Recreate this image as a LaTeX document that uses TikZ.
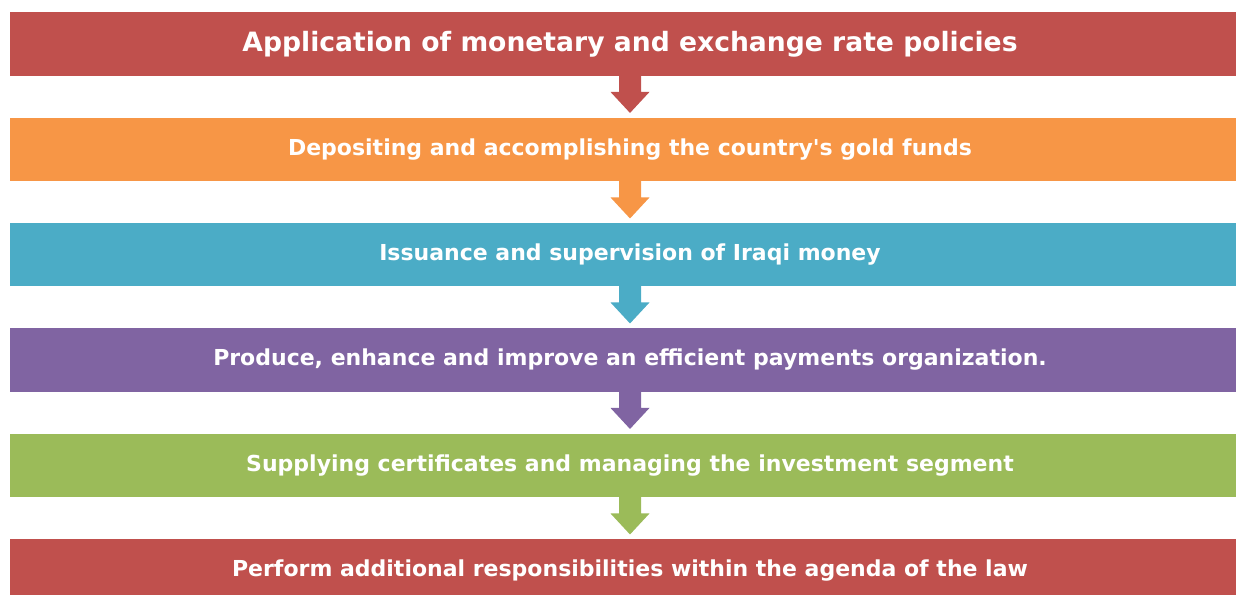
\documentclass[tikz,border=0pt]{standalone}
\usepackage{fontspec}
\setmainfont{DejaVu Sans}
\usetikzlibrary{calc}

\definecolor{barred}{HTML}{C0504D}
\definecolor{barorange}{HTML}{F79646}
\definecolor{barblue}{HTML}{4BACC6}
\definecolor{barpurple}{HTML}{8064A2}
\definecolor{bargreen}{HTML}{9BBB59}

\begin{document}
\begin{tikzpicture}[x=1pt,y=-1pt,
    bar/.style={fill=#1, minimum width=1240pt, minimum height=63.5pt, inner sep=0pt,
      text=white, font=\bfseries\fontsize{22}{26}\selectfont},
    titlebar/.style={bar=#1, font=\bfseries\fontsize{26.6}{31}\selectfont},
    blockarrow/.pic={
      \fill[pic actions] (-11,-1) -- (-11,16) -- (-19.5,16) -- (0,37)
        -- (19.5,16) -- (11,16) -- (11,-1) -- cycle;
    }]
  \useasboundingbox (0,0) rectangle (1236,594);
  \clip (0,0) rectangle (1236,594);

  % the six tasks
  \node[titlebar=barred] (policy) at (630,44) {Application of monetary and exchange rate policies};
  \node[bar=barorange] (gold) at (630,149.5) {Depositing and accomplishing the country\textquotesingle s gold funds};
  \node[bar=barblue] (money) at (630,254.5) {Issuance and supervision of Iraqi money};
  \node[bar=barpurple] (payments) at (630,360) {Produce, enhance and improve an efficient payments organization.};
  \node[bar=bargreen] (invest) at (630,465.5) {Supplying certificates and managing the investment segment};
  \node[bar=barred] (law) at (630,571) {Perform additional responsibilities within the agenda of the law};

  % arrows between them
  \pic[fill=barred] at (policy.south) {blockarrow};
  \pic[fill=barorange] at (gold.south) {blockarrow};
  \pic[fill=barblue] at (money.south) {blockarrow};
  \pic[fill=barpurple] at (payments.south) {blockarrow};
  \pic[fill=bargreen] at (invest.south) {blockarrow};
\end{tikzpicture}
\end{document}
